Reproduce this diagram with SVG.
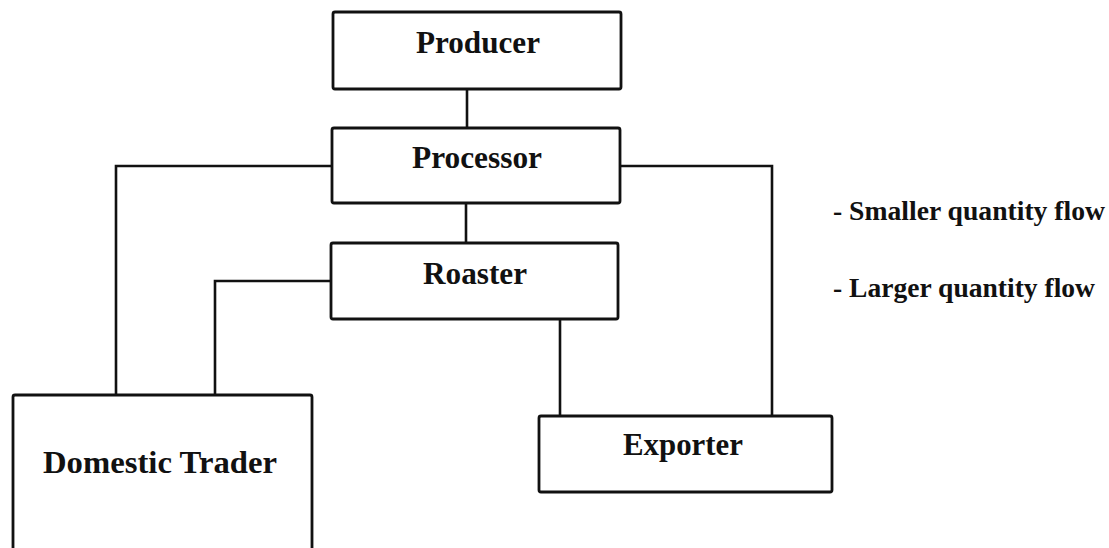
<svg xmlns="http://www.w3.org/2000/svg" width="1109" height="548" viewBox="0 0 1109 548">
<style>
.box{fill:#fff;stroke:#111;stroke-width:2.8}
.lbl{font-family:"Liberation Serif","Times New Roman",serif;font-weight:bold;font-size:31px;fill:#111;text-anchor:middle}
.leg{font-family:"Liberation Serif","Times New Roman",serif;font-weight:bold;font-size:27px;fill:#111}
.conn{fill:none;stroke:#111;stroke-width:2.6}
</style>
<rect width="1109" height="548" fill="#fff"/>
<g id="connectors">
<path class="conn" d="M467,89 V128"/>
<path class="conn" d="M332,166 H116 V395"/>
<path class="conn" d="M620,166 H772 V416"/>
<path class="conn" d="M466,203 V243"/>
<path class="conn" d="M331,281 H215 V395"/>
<path class="conn" d="M560,319 V416"/>
</g>
<g id="producer">
<rect class="box" x="333" y="12" width="288" height="77" rx="2"/>
<text class="lbl" x="478" y="53" textLength="124" lengthAdjust="spacingAndGlyphs">Producer</text>
</g>
<g id="processor">
<rect class="box" x="332" y="128" width="288" height="75" rx="2"/>
<text class="lbl" x="477" y="168" textLength="130" lengthAdjust="spacingAndGlyphs">Processor</text>
</g>
<g id="roaster">
<rect class="box" x="331" y="243" width="287" height="76" rx="2"/>
<text class="lbl" x="475" y="284" textLength="104" lengthAdjust="spacingAndGlyphs">Roaster</text>
</g>
<g id="domestic-trader">
<rect class="box" x="13" y="395" width="299" height="170" rx="2"/>
<text class="lbl" x="160" y="473" textLength="234" lengthAdjust="spacingAndGlyphs">Domestic Trader</text>
</g>
<g id="exporter">
<rect class="box" x="539" y="416" width="293" height="76" rx="2"/>
<text class="lbl" x="683" y="455" textLength="120" lengthAdjust="spacingAndGlyphs">Exporter</text>
</g>
<g id="legend">
<text class="leg" x="833" y="220" textLength="272" lengthAdjust="spacingAndGlyphs">- Smaller quantity flow</text>
<text class="leg" x="833" y="297" textLength="262" lengthAdjust="spacingAndGlyphs">- Larger quantity flow</text>
</g>
</svg>
